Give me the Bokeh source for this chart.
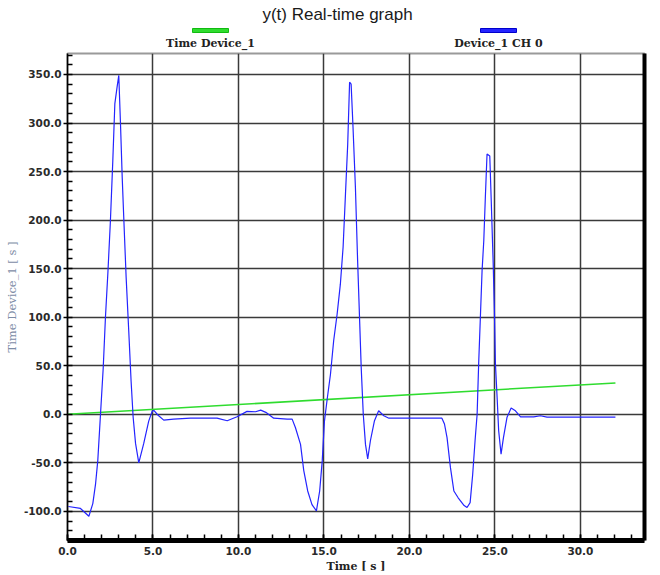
from bokeh.plotting import figure
from bokeh.layouts import column
from bokeh.models import Range1d, LinearAxis, SingleIntervalTicker, PrintfTickFormatter, FixedTicker, Grid
from bokeh.core.properties import value
from bokeh.embed import file_html
from bokeh.resources import INLINE

# ---------------- data ----------------
title_text = "y(t) Real-time graph"
series_names = ["Time Device_1", "Device_1 CH 0"]
series_colors = ["#2fdc2f", "#2424ff"]
swatch_colors = ["#11bb11", "#0000cc"]
x_label = "Time [ s ]"
y_label = "Time Device_1 [ s ]"

green_t = [0.0, 32.05]
green_v = [0.0, 32.3]

blue_t = [0.05, 0.76, 1.25, 1.48, 1.64, 1.77, 1.93, 2.09, 2.22, 2.36,
          2.51, 2.65, 2.77, 2.90, 3.00, 3.10, 3.20, 3.29, 3.43, 3.59,
          3.72, 3.84, 3.98, 4.17, 4.46, 4.75, 4.95, 5.05, 5.30, 5.63,
          6.20, 7.20, 8.75, 9.34, 9.92, 10.50, 11.00, 11.30, 11.60, 12.06,
          12.85, 13.14, 13.33, 13.63, 13.82, 14.05, 14.30, 14.56, 14.75, 14.90,
          15.03, 15.19, 15.38, 15.57, 15.77, 15.96, 16.12, 16.26, 16.39, 16.50,
          16.59, 16.70, 16.84, 16.97, 17.10, 17.18, 17.30, 17.43, 17.56, 17.72,
          17.95, 18.20, 18.50, 18.80, 19.50, 21.90, 22.05, 22.20, 22.40, 22.60,
          22.85, 23.20, 23.37, 23.55, 23.70, 23.84, 23.96, 24.05, 24.15, 24.25,
          24.35, 24.44, 24.54, 24.70, 24.78, 24.90, 24.97, 25.03, 25.13, 25.22,
          25.36, 25.50, 25.71, 25.95, 26.20, 26.50, 27.27, 27.66, 28.05, 32.05]
blue_v = [-95, -97, -105, -92, -72, -48, 0, 48, 100, 145,
          199, 261, 320, 337, 349, 299, 244, 203, 141, 83,
          34, -3, -30, -50, -30, -7, 3, 4, -1, -6,
          -5, -4, -4, -6.7, -2.6, 3, 2.6, 4.3, 2, -4,
          -5, -5, -13.6, -31, -58, -79, -93, -99.5, -79, -48,
          -7, 15.7, 41, 76, 103, 134, 172, 227, 278, 342,
          340, 296, 234, 158, 90, 48, 0, -31, -46, -27,
          -7, 3.6, -1.5, -4, -4, -4, -10, -24, -55, -79,
          -86, -94, -96, -91, -62, -27, 0, 52, 100, 148,
          179, 223, 268, 266, 223, 155, 107, 52, 17, -17,
          -41, -24, -3, 6.4, 3.6, -2.6, -2.6, -1.5, -3, -3]

x_start, x_end = 0.0, 33.75
y_start, y_end = -130.0, 371.6

W = 660
HEAD_H = 52
FRAME_L, FRAME_R = 67, 644

# ---------------- header: title + legend ----------------
# the header frame is aligned with the main plot frame by the column layout,
# so its x range is expressed in page pixels of that frame
head = figure(width=W, height=HEAD_H, x_range=Range1d(FRAME_L, FRAME_R), y_range=Range1d(HEAD_H, 0),
              x_axis_type=None, y_axis_type=None, toolbar_location=None,
              output_backend="svg", min_border_left=FRAME_L, min_border_right=W - FRAME_R,
              min_border_top=0, min_border_bottom=0, outline_line_color=None)
head.grid.visible = False
head.text(x=[337], y=[14], text=[title_text], text_font=value("Liberation Sans"),
          text_font_size="17px", text_color="#1a1a1a", text_align="center",
          text_baseline="middle")
legend_x = [210, 498]
head.rect(x=legend_x, y=[30, 30], width=36, height=4, fill_color=series_colors,
          line_color=swatch_colors, line_width=1)
head.text(x=legend_x, y=[43, 43], text=series_names, text_font=value("DejaVu Serif"),
          text_font_size="11px", text_font_style="bold", text_color="#222222",
          text_align="center", text_baseline="middle")

# ---------------- main plot ----------------
p = figure(width=W, height=575 - HEAD_H, x_range=Range1d(x_start, x_end),
           y_range=Range1d(y_start, y_end), toolbar_location=None, output_backend="svg",
           min_border_left=FRAME_L, min_border_right=W - FRAME_R, min_border_top=1,
           min_border_bottom=35, x_axis_type=None, y_axis_type=None)
p.outline_line_color = "#9a9a9a"
p.outline_line_width = 2

xt = SingleIntervalTicker(interval=5, num_minor_ticks=5)
yt = SingleIntervalTicker(interval=50, num_minor_ticks=5)

xa = LinearAxis(ticker=xt, formatter=PrintfTickFormatter(format="%.1f"), axis_label=x_label)
xa.axis_line_width = 5
xa.axis_line_color = "black"
xa.major_tick_in = 6
xa.major_tick_out = 0
xa.minor_tick_in = 6
xa.minor_tick_out = 0
xa.major_tick_line_width = 1.5
xa.minor_tick_line_width = 1.5
xa.major_label_standoff = 6
xa.major_label_text_font = "DejaVu Sans"
xa.major_label_text_font_size = "10.5px"
xa.major_label_text_font_style = "bold"
xa.major_label_text_color = "#2a2a2a"
xa.axis_label_text_font = "DejaVu Serif"
xa.axis_label_text_font_size = "11px"
xa.axis_label_text_font_style = "bold"
xa.axis_label_text_color = "#222222"
xa.axis_label_standoff = 2
p.add_layout(xa, "below")

ya = LinearAxis(ticker=yt, formatter=PrintfTickFormatter(format="%.1f"), axis_label=y_label)
ya.axis_line_width = 1.5
ya.axis_line_color = "black"
ya.major_tick_in = 0
ya.major_tick_out = 4
ya.minor_tick_in = 5
ya.minor_tick_out = 0
ya.major_tick_line_width = 1.5
ya.minor_tick_line_width = 1.5
ya.major_label_standoff = 2
ya.major_label_text_font = "DejaVu Sans"
ya.major_label_text_font_size = "10.5px"
ya.major_label_text_font_style = "bold"
ya.major_label_text_color = "#2a2a2a"
ya.axis_label_text_font = "DejaVu Serif"
ya.axis_label_text_font_size = "11.5px"
ya.axis_label_text_font_style = "normal"
ya.axis_label_text_color = "#7d8ca6"
ya.axis_label_standoff = 2
p.add_layout(ya, "left")

ra = LinearAxis(ticker=FixedTicker(ticks=[]))
ra.axis_line_width = 4
ra.axis_line_color = "black"
ra.major_tick_line_color = None
ra.minor_tick_line_color = None
ra.major_label_standoff = 0
p.add_layout(ra, "right")

gx = Grid(dimension=0, ticker=xt, grid_line_color="#3a3a3a", grid_line_width=1.5)
gy = Grid(dimension=1, ticker=yt, grid_line_color="#3a3a3a", grid_line_width=1.5)
p.add_layout(gx)
p.add_layout(gy)

p.line(green_t, green_v, line_color=series_colors[0], line_width=1.6)
p.line(blue_t, blue_v, line_color=series_colors[1], line_width=1.2)

layout = column(head, p, spacing=0)
open("out.html", "w").write(file_html(layout, INLINE))
